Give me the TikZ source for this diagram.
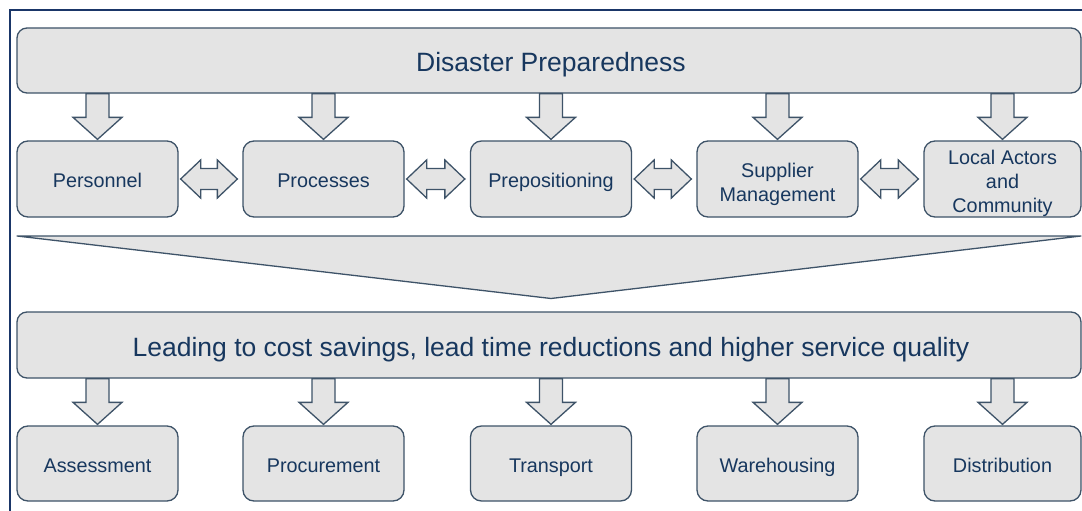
\documentclass[tikz,border=0pt]{standalone}
\usepackage{fontspec}
\setmainfont{Liberation Sans}
\usetikzlibrary{calc}
\definecolor{boxfill}{HTML}{E4E4E4}
\definecolor{boxline}{HTML}{3E5368}
\definecolor{txt}{HTML}{17375E}
\definecolor{frame}{HTML}{1A3668}
\tikzset{
  bigbox/.style={draw=boxline, fill=boxfill, line width=1.3pt, rounded corners=10pt,
     text=txt, font=\fontsize{26.5}{30}\selectfont, inner sep=0pt,
     text height=23pt, text depth=0pt},
  smallbox/.style={draw=boxline, fill=boxfill, line width=1.3pt, rounded corners=11pt,
     text=txt, font=\fontsize{19.8}{24}\selectfont, inner sep=0pt,
     minimum width=161pt, minimum height=76pt},
  oneline/.style={text height=17.2pt, text depth=0pt},
  blockarr/.style={draw=boxline, fill=boxfill, line width=1.3pt, line join=miter},
}
\newcommand\mlines[2]{\raisebox{#1}[\height][\depth]{\begin{tabular}{@{}c@{}}#2\end{tabular}}}
\newcommand\darrow[2]{%
  \draw[blockarr] let \p1=(#2.north), \p2=(#1.south) in
    (\x1-11.5pt,\y2) -- (\x1-11.5pt,\y1+23pt) -- (\x1-24.5pt,\y1+23pt) -- (\x1,\y1+1pt)
    -- (\x1+24.5pt,\y1+23pt) -- (\x1+11.5pt,\y1+23pt) -- (\x1+11.5pt,\y2) -- cycle;}
\newcommand\harrow[2]{%
  \draw[blockarr] let \p1=(#1.east), \p2=(#2.west) in
    (\x1+2pt,\y1) -- (\x1+22pt,\y1+19pt) -- (\x1+22pt,\y1+10.5pt) -- (\x2-25pt,\y1+10.5pt)
    -- (\x2-25pt,\y1+19pt) -- (\x2-5pt,\y1) -- (\x2-25pt,\y1-19pt) -- (\x2-25pt,\y1-10.5pt)
    -- (\x1+22pt,\y1-10.5pt) -- (\x1+22pt,\y1-19pt) -- cycle;}
\begin{document}
\begin{tikzpicture}[x=1pt,y=-1pt]
\useasboundingbox (0,0) rectangle (1082,511);
\clip (0,0) rectangle (1082,511);
\fill[white] (0,0) rectangle (1082,511);
\draw[frame, line width=2pt] (9.5,10.5) rectangle (1095,525);
% top
\node[bigbox, minimum width=1064pt, minimum height=65pt] (top) at (549,60.5) {\hspace{4pt}Disaster Preparedness};
% second row
\node[smallbox, oneline] (pers) at (97.5,179) {Personnel};
\node[smallbox, oneline] (proc) at (323.5,179) {Processes};
\node[smallbox, oneline] (prep) at (551,179) {Prepositioning};
\node[smallbox] (supp) at (777.5,179) {\mlines{-5.5pt}{Supplier\\Management}};
\node[smallbox, minimum width=157pt] (local) at (1002.5,179) {\mlines{-5pt}{Local Actors\\and\\Community}};
\foreach \bx in {pers,proc,prep,supp,local} {\darrow{top}{\bx}}
\harrow{pers}{proc}
\harrow{proc}{prep}
\harrow{prep}{supp}
\harrow{supp}{local}
% big chevron
\coordinate (chl) at (17,236);
\coordinate (chr) at (1081,236);
\coordinate (cht) at (551,298.5);
\draw[blockarr, line join=round] (chl) -- (chr) -- (cht) -- cycle;
% leading
\node[bigbox, minimum width=1064pt, minimum height=66pt] (lead) at (549,345)
  {\hspace{4pt}Leading to cost savings, lead time reductions and higher service quality};
% bottom row
\node[smallbox, oneline, minimum height=75pt] (ass) at (97.5,463.5) {Assessment};
\node[smallbox, oneline, minimum height=75pt] (pro) at (323.5,463.5) {Procurement};
\node[smallbox, oneline, minimum height=75pt] (tra) at (551,463.5) {Transport};
\node[smallbox, oneline, minimum height=75pt] (war) at (777.5,463.5) {Warehousing};
\node[smallbox, oneline, minimum height=75pt, minimum width=157pt] (dis) at (1002.5,463.5) {Distribution};
\foreach \bx in {ass,pro,tra,war,dis} {\darrow{lead}{\bx}}
\end{tikzpicture}
\end{document}
